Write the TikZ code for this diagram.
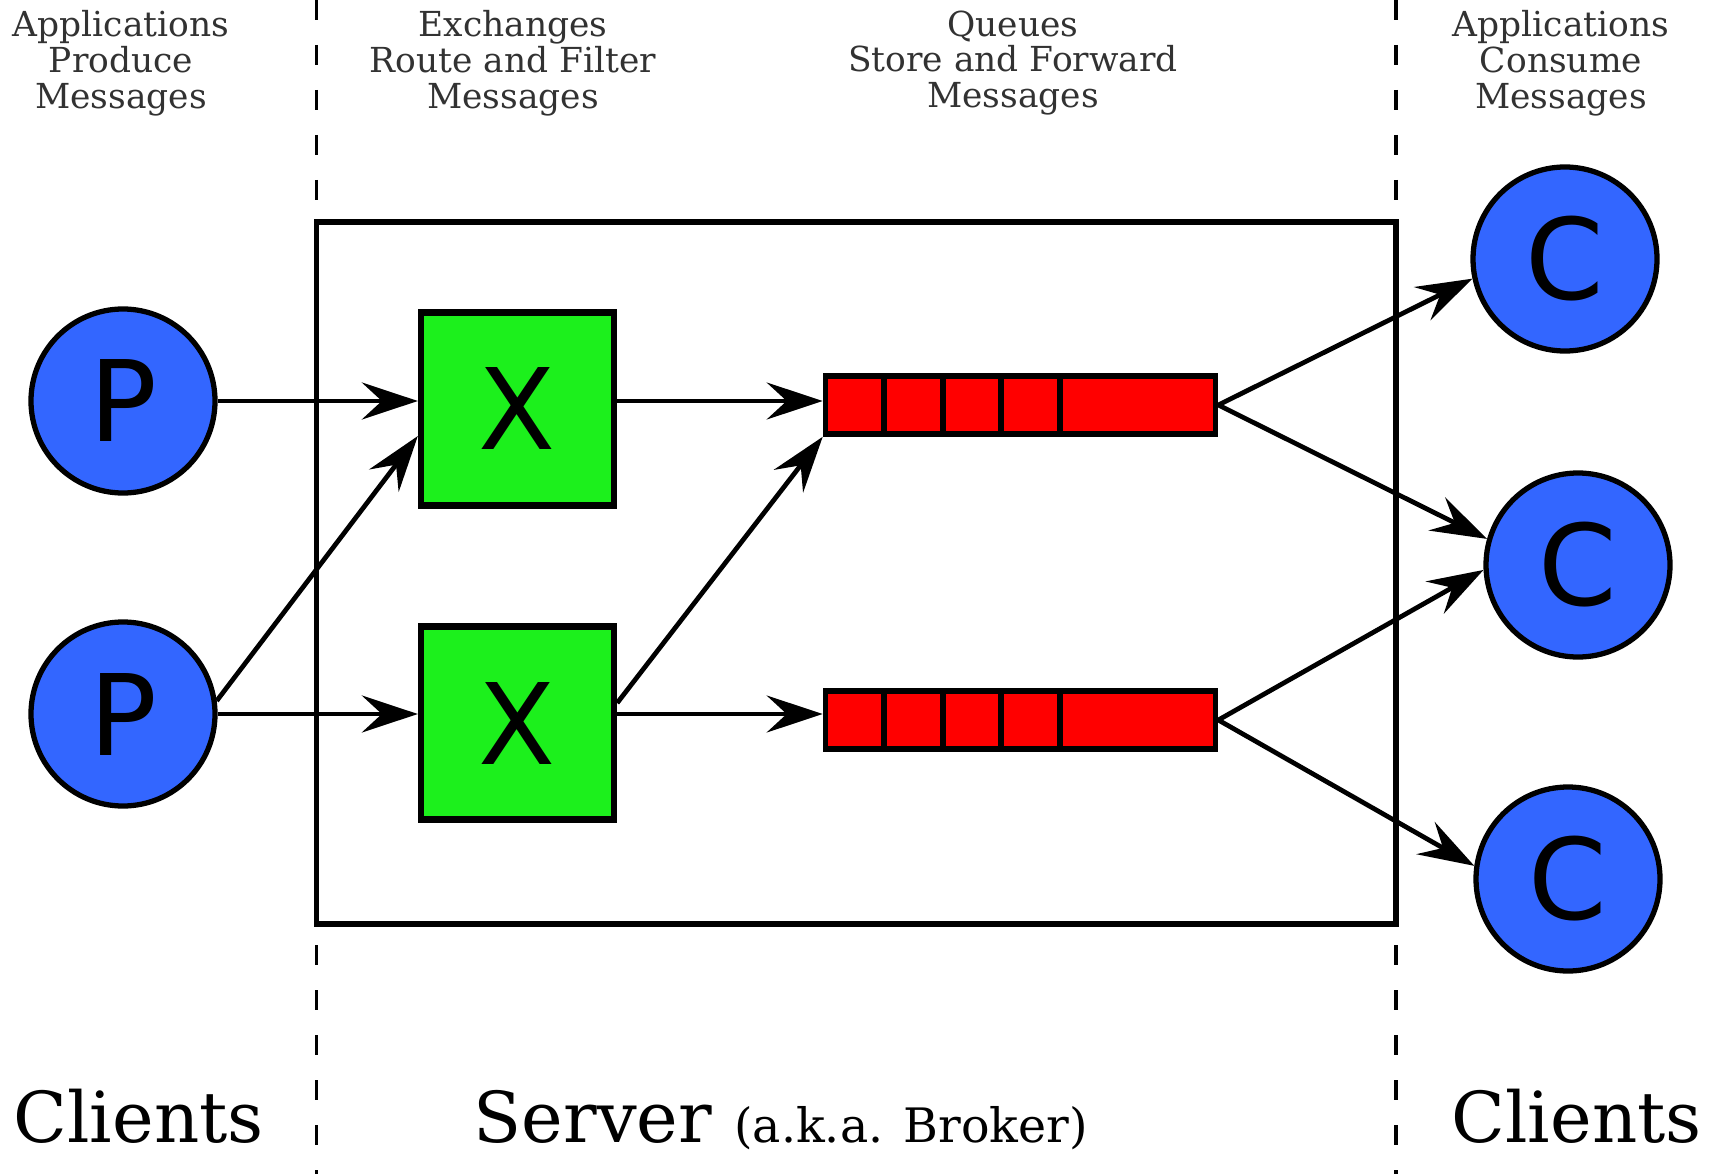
\documentclass[tikz,border=0pt]{standalone}
\usepackage{fontspec}
\setmainfont{DejaVu Serif}
\newfontfamily\lettre{DejaVu Sans}
\usepackage{tikz}
\usetikzlibrary{arrows.meta}
\definecolor{bleu}{RGB}{51,102,255}
\definecolor{vert}{RGB}{28,240,28}
\definecolor{rouge}{RGB}{255,0,0}
\definecolor{titre}{RGB}{50,50,50}
\tikzstyle{client}          =[circle, draw=black, line width=1.5pt, fill=bleu, minimum size=1.84cm, inner sep=0pt, font=\lettre\fontsize{32}{32}\selectfont]
\tikzstyle{echange}         =[rectangle, draw=black, line width=1.8pt, fill=vert, minimum size=1.93cm, inner sep=0pt, font=\lettre\fontsize{32}{32}\selectfont]
\tikzstyle{fileatt}         =[rectangle, draw=black, line width=1.6pt, fill=rouge, minimum width=3.9cm, minimum height=0.58cm, inner sep=0pt]
\tikzstyle{fleche}          =[line width=1.35pt, -{Stealth[length=0.56cm, width=0.37cm, inset=0.2cm]}]
\tikzstyle{pointille}       =[line width=1pt, dash pattern=on 0.2cm off 0.25cm]
\tikzstyle{entete}          =[align=center, text=titre, inner sep=0pt, font=\fontsize{9.8}{10.2}\selectfont]
\tikzstyle{legende}         =[anchor=base west, inner sep=0pt, font=\fontsize{20}{24}\selectfont]

\begin{document}
\begin{tikzpicture}

\useasboundingbox (0,0) rectangle (17.24,11.74);

%%%%%%%%%%%%%%%%%%%%%%%%
%paramètres des files
%%%%%%%%%%%%%%%%%%%%%%%%
\def \pas {0.585}; %largeur d'une case de la file
\def \decal {0.03}; %décalage de la première case

%séparations clients / serveur
\draw[pointille] (3.165,11.74) -- (3.165,0);
\draw[pointille] (13.96,11.74) -- (13.96,0);

%le serveur
\draw[line width=1.7pt] (3.165,2.50) rectangle (13.96,9.52);

%%%%%%%%%%%%%%%%%%%%%%%%
%les noeuds
%%%%%%%%%%%%%%%%%%%%%%%%
\node[client] (P1) at (1.23,7.73) {P};
\node[client] (P2) at (1.23,4.60) {P};

\node[echange] (X1) at (5.175,7.65) {X};
\node[echange] (X2) at (5.175,4.51) {X};

\node[fileatt] (Q1) at (10.205,7.69) {};
\node[fileatt] (Q2) at (10.205,4.54) {};
\foreach \q in {Q1,Q2}
  \foreach \k in {1,...,4}
    \draw[line width=1.6pt] ([xshift=\decal cm+\k*\pas cm]\q.south west) -- ([xshift=\decal cm+\k*\pas cm]\q.north west);

\node[client] (C1) at (15.65,9.15) {C};
\node[client] (C2) at (15.78,6.09) {C};
\node[client] (C3) at (15.68,2.95) {C};

%%%%%%%%%%%%%%%%%%%%%%%%
%les flèches
%%%%%%%%%%%%%%%%%%%%%%%%
\draw[fleche] (P1.east) -- (P1.east -| X1.west);
\draw[fleche] (P2.8) -- ([yshift=-0.27cm]X1.west);
\draw[fleche] (P2.east) -- (P2.east -| X2.west);

\draw[fleche] (P1.east -| X1.east) -- (P1.east -| Q1.west);
\draw[fleche] ([yshift=0.2cm]X2.east) -- (Q1.south west);
\draw[fleche] (P2.east -| X2.east) -- (P2.east -| Q2.west);

\draw[fleche] (Q1.east) -- (C1.192);
\draw[fleche] (Q1.east) -- (C2.164);
\draw[fleche] (Q2.east) -- (C2.183);
\draw[fleche] (Q2.east) -- (C3.172);

%%%%%%%%%%%%%%%%%%%%%%%%
%les textes
%%%%%%%%%%%%%%%%%%%%%%%%
\node[entete] (tP) at (1.21,11.11) {Applications\\Produce\\Messages};
\node[entete] (tX) at (5.13,11.11) {Exchanges\\Route and Filter\\Messages};
\node[entete] (tQ) at (10.13,11.11) {Queues\\Store and Forward\\Messages};
\node[entete] (tC) at (15.61,11.11) {Applications\\Consume\\Messages};

\node[legende] (cl1) at (0.13,0.32) {Clients};
\node[legende] (srv) at (4.73,0.32) {Server {\fontsize{13.5}{16}\selectfont (a.k.a. Broker)}};
\node[legende] (cl2) at (14.51,0.32) {Clients};

\end{tikzpicture}
\end{document}
